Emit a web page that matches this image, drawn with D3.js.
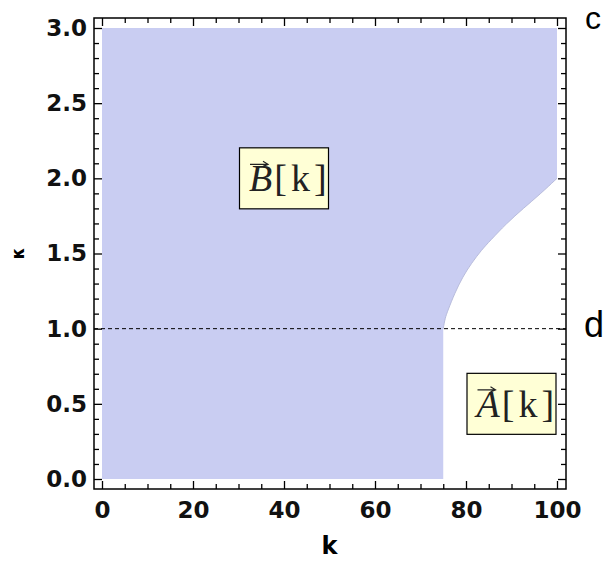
<!DOCTYPE html>
<html>
<head>
<meta charset="utf-8">
<script src="https://cdn.jsdelivr.net/npm/d3@7"></script>
<style>
  body { margin: 0; background: #fff; }
  .tick text { font-family: "DejaVu Sans", sans-serif; font-weight: bold; font-size: 23px; fill: #111; }
  .tick line { stroke: #000; stroke-width: 1.3px; }
</style>
</head>
<body>
<svg width="606" height="562"></svg>
<script>
// tick values
var kTicks = [0, 20, 40, 60, 80, 100];
var kappaTicks = [0, 0.5, 1.0, 1.5, 2.0, 2.5, 3.0];

// shaded region spans k 0..100, kappa 0..3
var regionK = [0, 100];
var regionKappa = [0, 3.0];

// unshaded corner: below this curve for k >= 75
var curveK     = [75, 75.4, 76.0, 77.5, 79.3, 81.2, 83.4, 85.3, 88.9, 92.6, 96.3, 100];
var curveKappa = [1.0, 1.07, 1.12, 1.235, 1.346, 1.435, 1.523, 1.585, 1.70, 1.80, 1.895, 2.0];

// dashed reference level
var refKappa = 1.0;

// region labels
var labelNames = ["B", "A"];
var labelK     = [40, 90];
var labelKappa = [2.0, 0.5];

var svg = d3.select("svg");

var x = d3.scaleLinear().domain([0, 100]).range([102, 557]);
var y = d3.scaleLinear().domain([0, 3]).range([479, 28]);

var frame = { left: 94, right: 566, top: 18, bottom: 489 };

// shaded region
svg.append("rect")
    .attr("x", x(regionK[0]))
    .attr("y", y(regionKappa[1]))
    .attr("width", x(regionK[1]) - x(regionK[0]))
    .attr("height", y(regionKappa[0]) - y(regionKappa[1]))
    .attr("fill", "#c9cdf2");

// cut out the lower-right corner
var curve = curveK.map(function (k, i) { return { k: k, v: curveKappa[i] }; });
svg.append("path")
    .datum(curve)
    .attr("d", d3.area()
        .curve(d3.curveBasis)
        .x(function (d) { return x(d.k); })
        .y0(y(regionKappa[0]) + 0.5)
        .y1(function (d) { return y(d.v); }))
    .attr("fill", "#fff");

// soft edge along the curved boundary
svg.append("path")
    .datum(curve)
    .attr("d", d3.line()
        .curve(d3.curveBasis)
        .x(function (d) { return x(d.k); })
        .y(function (d) { return y(d.v); }))
    .attr("fill", "none")
    .attr("stroke", "#b8bcdc")
    .attr("stroke-width", 1);

// dashed line
svg.append("line")
    .attr("x1", frame.left).attr("x2", frame.right)
    .attr("y1", y(refKappa)).attr("y2", y(refKappa))
    .attr("stroke", "#000")
    .attr("stroke-width", 1)
    .attr("stroke-dasharray", "4,3");

// minor ticks
var kMinor = x.ticks(20).filter(function (t) { return kTicks.indexOf(t) < 0; });
var kappaMinor = y.ticks(30).filter(function (t) {
    return !kappaTicks.some(function (m) { return Math.abs(m - t) < 1e-6; });
});

function addAxis(axis, tx, ty) {
    var g = svg.append("g")
        .attr("transform", "translate(" + tx + "," + ty + ")")
        .call(axis);
    g.select(".domain").remove();
    return g;
}

// bottom
addAxis(d3.axisBottom(x).tickValues(kTicks).tickSize(-8).tickPadding(13), 0, frame.bottom);
addAxis(d3.axisBottom(x).tickValues(kMinor).tickSize(-5).tickFormat(""), 0, frame.bottom);
// top
addAxis(d3.axisTop(x).tickValues(kTicks).tickSize(-8).tickFormat(""), 0, frame.top);
addAxis(d3.axisTop(x).tickValues(kMinor).tickSize(-5).tickFormat(""), 0, frame.top);
// left
addAxis(d3.axisLeft(y).tickValues(kappaTicks).tickSize(-8).tickPadding(7).tickFormat(d3.format(".1f")), frame.left, 0);
addAxis(d3.axisLeft(y).tickValues(kappaMinor).tickSize(-5).tickFormat(""), frame.left, 0);
// right
addAxis(d3.axisRight(y).tickValues(kappaTicks).tickSize(-8).tickFormat(""), frame.right, 0);
addAxis(d3.axisRight(y).tickValues(kappaMinor).tickSize(-5).tickFormat(""), frame.right, 0);

// frame
svg.append("rect")
    .attr("x", frame.left).attr("y", frame.top)
    .attr("width", frame.right - frame.left)
    .attr("height", frame.bottom - frame.top)
    .attr("fill", "none")
    .attr("stroke", "#000")
    .attr("stroke-width", 1.5);

// axis titles
svg.append("text")
    .attr("x", (x.range()[0] + x.range()[1]) / 2)
    .attr("y", 554)
    .attr("text-anchor", "middle")
    .style("font-family", "DejaVu Sans, sans-serif")
    .style("font-weight", "bold")
    .style("font-size", "24px")
    .text("k");

svg.append("text")
    .attr("transform", "translate(24," + (y.range()[0] + y.range()[1]) / 2 + ") rotate(-90)")
    .attr("text-anchor", "middle")
    .style("font-family", "DejaVu Sans, sans-serif")
    .style("font-weight", "bold")
    .style("font-size", "17px")
    .text("\u03BA");

// region labels
labelNames.forEach(function (name, i) {
    var cx = x(labelK[i]), cy = y(labelKappa[i]);
    var g = svg.append("g");
    var bw = 89, bh = 61;
    g.append("rect")
        .attr("x", cx - bw / 2).attr("y", cy - bh / 2)
        .attr("width", bw).attr("height", bh)
        .attr("fill", "#ffffd6")
        .attr("stroke", "#000")
        .attr("stroke-width", 1.2);
    var t = g.append("text")
        .attr("x", cx - 35)
        .attr("y", cy + 13)
        .style("font-family", "Liberation Serif, serif")
        .style("font-size", "38px")
        .attr("fill", "#222");
    t.append("tspan").style("font-style", "italic").text(name);
    t.append("tspan").attr("dx", 2).text("[");
    t.append("tspan").attr("dx", 4).text("k");
    t.append("tspan").attr("dx", 4).text("]");
    // vector arrow over the letter
    var ax0 = cx - 34, ax1 = cx - 16, ay = cy - 14;
    g.append("path")
        .attr("d", "M" + ax0 + "," + ay + "H" + ax1 + "M" + (ax1 - 5) + "," + (ay - 3) + "L" + ax1 + "," + ay + "L" + (ax1 - 5) + "," + (ay + 2))
        .attr("fill", "none")
        .attr("stroke", "#222")
        .attr("stroke-width", 1.2);
});

// panel letters
svg.append("text").attr("x", 585).attr("y", 29)
    .style("font-family", "Liberation Sans, Arial, sans-serif")
    .style("font-size", "32px").text("c");
svg.append("text").attr("x", 584).attr("y", 337)
    .style("font-family", "Liberation Sans, Arial, sans-serif")
    .style("font-size", "36px").text("d");
</script>
</body>
</html>
